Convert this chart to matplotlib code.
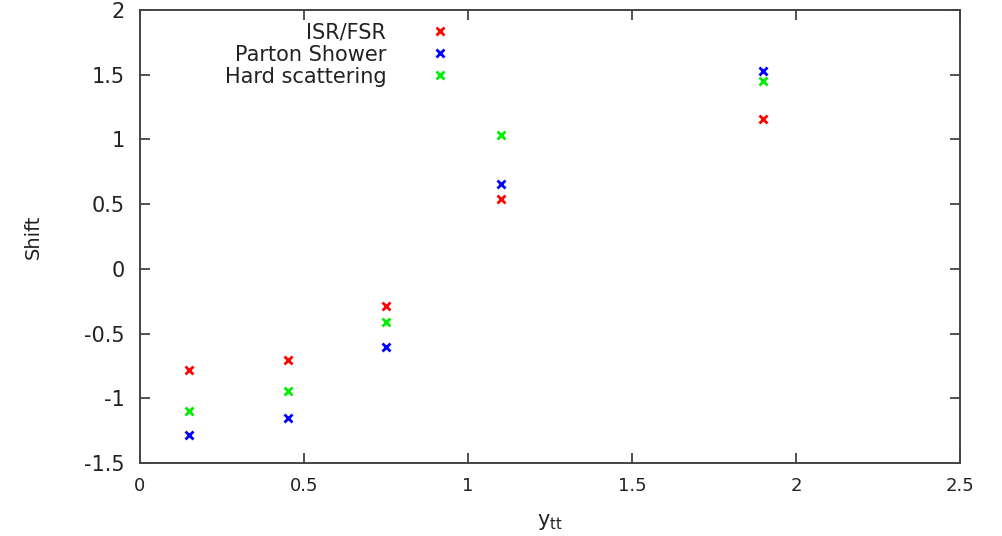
import matplotlib

matplotlib.use('Agg')

import matplotlib.pyplot as plt

# bin centres in y_tt and the shift for each systematic source
ytt = [0.15, 0.45, 0.75, 1.1, 1.9]
isr_fsr = [-0.78, -0.705, -0.29, 0.54, 1.155]
parton_shower = [-1.28, -1.155, -0.60, 0.655, 1.53]
hard_scattering = [-1.10, -0.945, -0.41, 1.035, 1.45]

series = [
    ('ISR/FSR', isr_fsr, '#ff0000'),
    ('Parton Shower', parton_shower, '#0000ff'),
    ('Hard scattering', hard_scattering, '#00ee00'),
]

text_col = '#222222'
plt.rcParams['font.family'] = 'DejaVu Sans'

fig = plt.figure(figsize=(10.02, 5.36), dpi=100)
ax = fig.add_axes([0.1397, 0.1362, 0.8184, 0.8451])

for name, vals, col in series:
    ax.plot(ytt, vals, linestyle='none', marker='x', markersize=6,
            markeredgewidth=2, color=col, label=name)

ax.set_xlim(0, 2.5)
ax.set_ylim(-1.5, 2)
ax.set_xticks([0, 0.5, 1, 1.5, 2, 2.5])
ax.set_xticklabels(['0', '0.5', '1', '1.5', '2', '2.5'])
ax.set_yticks([-1.5, -1, -0.5, 0, 0.5, 1, 1.5, 2])
ax.set_yticklabels(['-1.5', '-1', '-0.5', '0', '0.5', '1', '1.5', '2'])

ax.tick_params(direction='in', length=7, width=1.2, color='#333333',
               top=True, right=True)
ax.tick_params(axis='x', labelsize=13, pad=10, labelcolor=text_col)
ax.tick_params(axis='y', labelsize=15, pad=11, labelcolor=text_col)
for sp in ax.spines.values():
    sp.set_color('#444444')
    sp.set_linewidth(1.4)

ax.set_ylabel('Shift', fontsize=14, color=text_col, labelpad=30)
ax.set_xlabel(r'y$_{\mathrm{tt}}$', fontsize=15, color=text_col, labelpad=12)

leg = ax.legend(loc='upper left', bbox_to_anchor=(0.088, 1.0),
                frameon=False, markerfirst=False, alignment='right',
                fontsize=15, handlelength=1.2, handletextpad=2.0,
                labelspacing=0.1, borderaxespad=0.2)
for t in leg.get_texts():
    t.set_color(text_col)

plt.savefig('out.png', dpi=100)
plt.close(fig)
